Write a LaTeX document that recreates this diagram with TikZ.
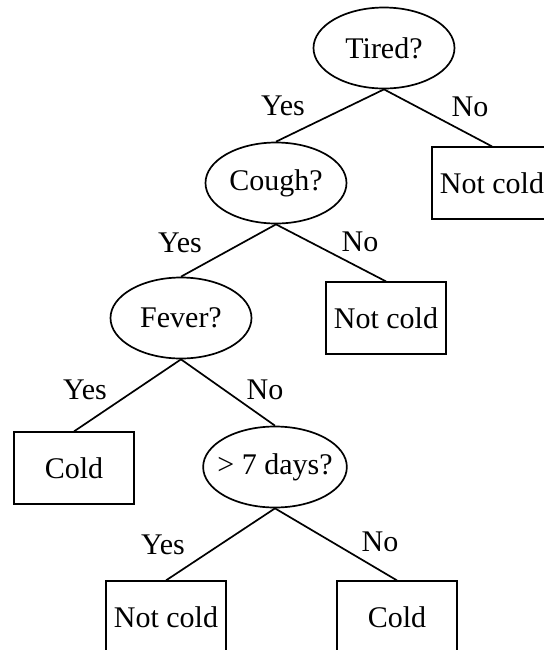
\documentclass[tikz,border=0pt]{standalone}
\usepackage{fontspec}
\setmainfont{Liberation Serif}
\usetikzlibrary{shapes.geometric}
\begin{document}
\begin{tikzpicture}[x=0.5pt,y=-0.5pt,
  every node/.style={font=\fontsize{15}{18}\selectfont},
  question/.style={draw,line width=0.85pt,ellipse,inner sep=0pt,minimum width=70.5pt,minimum height=40.5pt},
  leaf/.style={draw,line width=0.85pt,rectangle,inner sep=0pt,minimum width=60pt,minimum height=35.75pt},
  branch/.style={line width=0.85pt},
  answer/.style={inner sep=0pt}]
\useasboundingbox (0,0) rectangle (543,650);

% decision nodes
\node[question] (tired) at (384,48) {Tired?};
\node[question] (cough) at (276,183) {Cough?};
\node[question] (fever) at (181,318) {Fever?};
\node[question,minimum width=71.5pt,inner xsep=-3.4pt] (days) at (275,467) {> 7 days?};

% outcomes
\node[leaf] (nc1) at (492,183) {Not cold};
\node[leaf] (nc2) at (386,318) {Not cold};
\node[leaf] (cold1) at (74,468) {Cold};
\node[leaf] (nc3) at (166,617) {Not cold};
\node[leaf] (cold2) at (397,617) {Cold};

% branches
\draw[branch] (tired.south) -- (cough.north);
\draw[branch] (tired.south) -- (nc1.north);
\draw[branch] (cough.south) -- (fever.north);
\draw[branch] (cough.south) -- (nc2.north);
\draw[branch] (fever.south) -- (cold1.north);
\draw[branch] (fever.south) -- (days.north);
\draw[branch] (days.south) -- (nc3.north);
\draw[branch] (days.south) -- (cold2.north);

% branch labels
\node[answer] (y1) at (283,106) {Yes};
\node[answer] (n1) at (470,107) {No};
\node[answer] (y2) at (180,243) {Yes};
\node[answer] (n2) at (360,242) {No};
\node[answer] (y3) at (85,390) {Yes};
\node[answer] (n3) at (265,390) {No};
\node[answer] (y4) at (163,545) {Yes};
\node[answer] (n4) at (380,542) {No};
\end{tikzpicture}
\end{document}
